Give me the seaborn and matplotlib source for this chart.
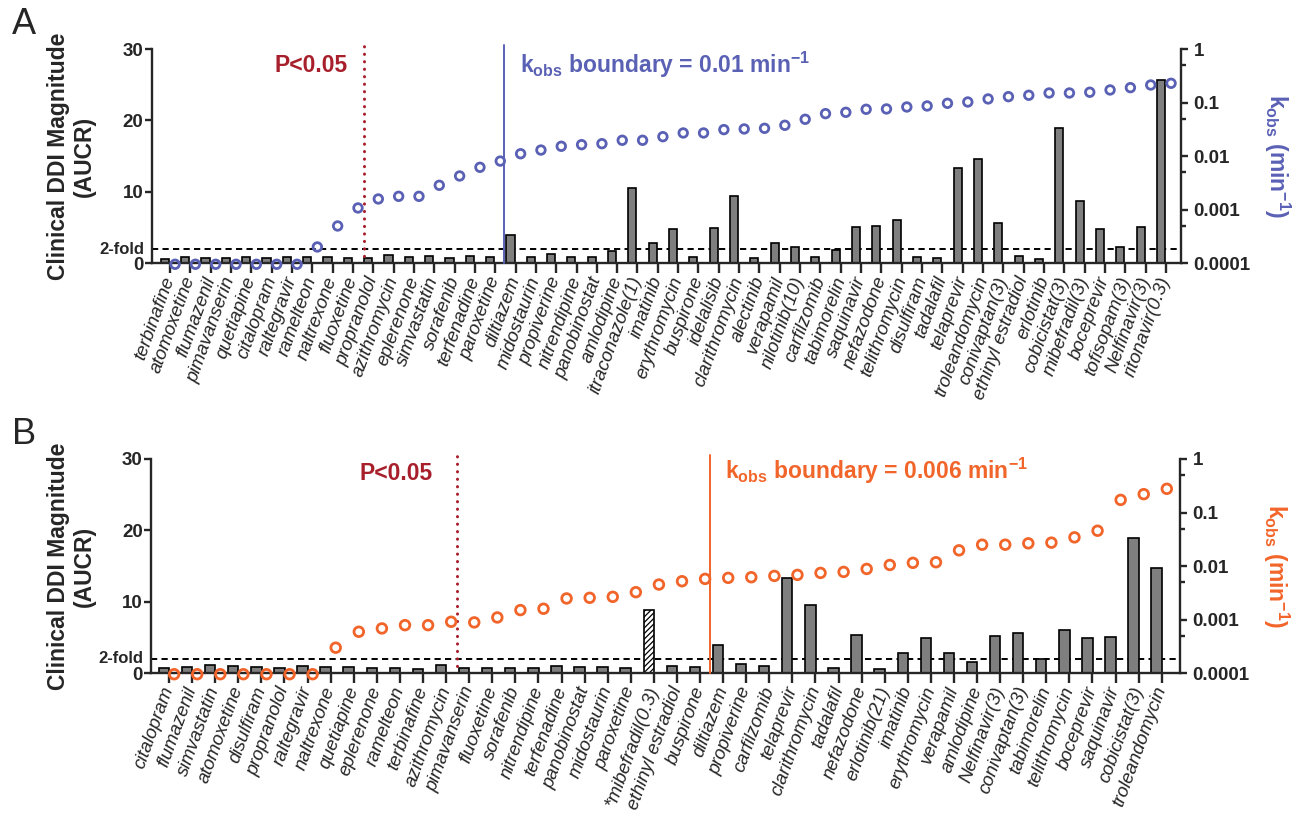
import numpy as np
import pandas as pd
import matplotlib
matplotlib.use("Agg")
import matplotlib.pyplot as plt
from matplotlib.ticker import FixedLocator, FixedFormatter
import seaborn as sns

# ---------------- data ----------------
names_a = ["terbinafine", "atomoxetine", "flumazenil", "pimavanserin", "quetiapine",
           "citalopram", "raltegravir", "ramelteon", "naltrexone", "fluoxetine",
           "propranolol", "azithromycin", "eplerenone", "simvastatin", "sorafenib",
           "terfenadine", "paroxetine", "diltiazem", "midostaurin", "propiverine",
           "nitrendipine", "panobinostat", "amlodipine", "itraconazole(1)", "imatinib",
           "erythromycin", "buspirone", "idelalisib", "clarithromycin", "alectinib",
           "verapamil", "nilotinib(10)", "carfilzomib", "tabimorelin", "saquinavir",
           "nefazodone", "telithromycin", "disulfiram", "tadalafil", "telaprevir",
           "troleandomycin", "conivaptan(3)", "ethinyl estradiol", "erlotinib", "cobicistat(3)",
           "mibefradil(3)", "boceprevir", "tofisopam(3)", "Nelfinavir(3)", "ritonavir(0.3)"]
aucr_a = [0.65, 0.93, 0.8, 0.7, 0.88, 0.8, 0.93, 0.84, 0.84, 0.74,
          0.8, 1.1, 0.84, 1.07, 0.74, 1.0, 0.84, 3.95, 0.88, 1.3,
          0.84, 0.93, 1.67, 10.56, 2.8, 4.84, 0.93, 4.98, 9.4, 0.7,
          2.8, 2.28, 0.93, 1.86, 5.02, 5.26, 6.05, 0.88, 0.8, 13.3,
          14.6, 5.63, 1.07, 0.56, 18.9, 8.7, 4.84, 2.23, 5.07, 25.7]
kobs_a = [0.000096, 0.000096, 0.000096, 0.000096, 0.000096, 0.000096, 0.000096,
          0.000202, 0.000498, 0.00108, 0.00159, 0.00178, 0.00178, 0.00286, 0.00427,
          0.0062, 0.0081, 0.0111, 0.0130, 0.0153, 0.0164, 0.0171, 0.0198, 0.0198,
          0.0231, 0.0271, 0.0271, 0.0313, 0.0322, 0.0331, 0.0377, 0.0488, 0.0622,
          0.0659, 0.0750, 0.0761, 0.0828, 0.0865, 0.097, 0.1026, 0.117, 0.129,
          0.137, 0.151, 0.151, 0.156, 0.172, 0.190, 0.213, 0.229]

names_b = ["citalopram", "flumazenil", "simvastatin", "atomoxetine", "disulfiram",
           "propranolol", "raltegravir", "naltrexone", "quetiapine", "eplerenone",
           "ramelteon", "terbinafine", "azithromycin", "pimavanserin", "fluoxetine",
           "sorafenib", "nitrendipine", "terfenadine", "panobinostat", "midostaurin",
           "paroxetine", "*mibefradil(0.3)", "ethinyl estradiol", "buspirone", "diltiazem",
           "propiverine", "carfilzomib", "telaprevir", "clarithromycin", "tadalafil",
           "nefazodone", "erlotinib(21)", "imatinib", "erythromycin", "verapamil",
           "amlodipine", "Nelfinavir(3)", "conivaptan(3)", "tabimorelin", "telithromycin",
           "boceprevir", "saquinavir", "cobicistat(3)", "troleandomycin"]
aucr_b = [0.79, 0.84, 1.1, 0.98, 0.84, 0.79, 0.98, 0.84, 0.84, 0.74,
          0.74, 0.65, 1.1, 0.74, 0.7, 0.7, 0.74, 1.02, 0.88, 0.84,
          0.79, 8.8, 1.07, 0.93, 3.95, 1.35, 1.02, 13.35, 9.49, 0.79,
          5.3, 0.56, 2.79, 4.88, 2.79, 1.63, 5.16, 5.63, 1.95, 6.09,
          4.93, 5.07, 18.98, 14.7]
kobs_b = [0.000096, 0.000096, 0.000096, 0.000096, 0.000096, 0.000096, 0.000096,
          0.0003, 0.000595, 0.000687, 0.00079, 0.00079, 0.000914, 0.00089, 0.0011,
          0.00151, 0.0016, 0.00249, 0.00256, 0.00267, 0.00326, 0.00453, 0.00522,
          0.00577, 0.00603, 0.0062, 0.00656, 0.00685, 0.00746, 0.00779, 0.00885,
          0.0105, 0.0115, 0.0118, 0.0197, 0.0251, 0.0251, 0.0266, 0.0274, 0.0344,
          0.0457, 0.172, 0.220, 0.277]
hatched_b = "*mibefradil(0.3)"

# thresholds (category-position units)
p_line_a, k_line_a = 9.55, 16.45
p_line_b, k_line_b = 12.48, 23.42

k_ticks = [0.0001, 0.001, 0.01, 0.1, 1]
k_tick_labels = ["0.0001", "0.001", "0.01", "0.1", "1"]
k_minor = [0.0005, 0.005, 0.05, 0.5]
y_ticks = [0, 10, 20, 30]

BAR = "#7f7f7f"
RED = "#a81f2c"
BLUE = "#5a61b5"
ORANGE = "#f2652a"

# ---------------- style ----------------
sns.set_style("ticks")
plt.rcParams["font.family"] = ["Liberation Sans", "DejaVu Sans"]
plt.rcParams["axes.linewidth"] = 1.7
plt.rcParams["hatch.linewidth"] = 0.9

fig = plt.figure(figsize=(12.92, 8.14), dpi=100)
axA = fig.add_axes([0.1174, 0.6765, 0.7967, 0.2633])
axB = fig.add_axes([0.1169, 0.1729, 0.7964, 0.2633])


def panel(ax, names, aucr, kobs, kcolor, xlim, bar_w, off, p_line, k_line,
          p_txt, k_txt, k_label, circ_s, hatched=None):
    n = len(names)
    df = pd.DataFrame({"name": names, "aucr": aucr, "kobs": kobs})
    df["pos"] = np.arange(n)
    df["bx"] = df["pos"] - off
    df["cx"] = df["pos"] + off

    ax.axhline(2, color="black", lw=1.4, ls=(0, (3.2, 2.2)), zorder=1)
    sns.barplot(data=df, x="bx", y="aucr", native_scale=True, width=bar_w,
                color=BAR, saturation=1, edgecolor="black", linewidth=1.2,
                errorbar=None, ax=ax, zorder=2)
    if hatched is not None:
        i = names.index(hatched)
        bars = [p for p in ax.patches]
        bars[i].set_facecolor("white")
        bars[i].set_hatch("//////")
        bars[i].set_edgecolor("black")

    ax.set_xlim(*xlim)
    ax.set_ylim(0, 30)
    ax.set_yticks(y_ticks)
    ax.set_yticklabels([str(v) for v in y_ticks], fontsize=13.5, fontweight="bold")
    ax.set_xticks(df["pos"])
    ax.set_xticklabels(names, rotation=70, ha="right", va="center",
                       rotation_mode="anchor", fontsize=13.5, fontstyle="italic")
    ax.tick_params(axis="x", length=7, width=1.7, pad=3)
    ax.tick_params(axis="y", length=5, width=1.7, pad=1)
    ax.set_xlabel("")
    ax.set_ylabel("Clinical DDI Magnitude\n(AUCR)", fontsize=16.5, fontweight="bold",
                  linespacing=1.15)
    ax.yaxis.set_label_coords(-0.054, 0.5)
    for s in ["top", "right"]:
        ax.spines[s].set_visible(False)

    # threshold lines
    ax.plot([p_line, p_line], [1, 30.6], color=RED, lw=2.2, ls=(0, (0.05, 2.4)),
            dash_capstyle="round", clip_on=False, zorder=3)
    ax.plot([k_line, k_line], [0, 30.5], color=kcolor, lw=1.4, clip_on=False, zorder=3)
    ax.text(p_txt[0], p_txt[1], "P<0.05", color=RED, fontsize=16.5, fontweight="bold",
            ha="right", va="center")
    ax.text(k_txt[0], k_txt[1],
            r"$\mathregular{k_{obs}}$ boundary = " + k_label + r" min$^{\mathregular{-1}}$",
            color=kcolor, fontsize=16.5, fontweight="bold", ha="left", va="center")
    ax.text(-0.007, 2, "2-fold", transform=ax.get_yaxis_transform(), ha="right",
            va="center", fontsize=12, fontweight="bold")

    ax2 = ax.twinx()
    sns.scatterplot(data=df, x="cx", y="kobs", ax=ax2, color=kcolor, facecolor="none",
                    edgecolor=kcolor, linewidth=2.0, s=circ_s, marker="o",
                    clip_on=False, zorder=5, legend=False)
    ax2.set_yscale("log")
    ax2.set_ylim(1e-4, 1)
    ax2.set_xlim(*xlim)
    ax2.yaxis.set_major_locator(FixedLocator(k_ticks))
    ax2.yaxis.set_major_formatter(FixedFormatter(k_tick_labels))
    ax2.yaxis.set_minor_locator(FixedLocator(k_minor))
    ax2.yaxis.set_minor_formatter(FixedFormatter([""] * len(k_minor)))
    ax2.tick_params(axis="y", which="major", length=5, width=1.7, pad=4, labelsize=13.5)
    ax2.tick_params(axis="y", which="minor", length=3.5, width=1.7)
    for lab in ax2.get_yticklabels():
        lab.set_fontweight("bold")
    ax2.set_ylabel("")
    ax2.set_xlabel("")
    for s in ["top", "left", "bottom"]:
        ax2.spines[s].set_visible(False)
    ax2.text(1.0935, 0.5, r"$\mathregular{k_{obs}}$ (min$^{\mathregular{-1}}$)",
             transform=ax2.transAxes, rotation=270, ha="center", va="center",
             color=kcolor, fontsize=16.5, fontweight="bold")
    return ax2


panel(axA, names_a, aucr_a, kobs_a, BLUE, (-0.9, 49.74), 0.40, 0.25,
      p_line_a, k_line_a, (8.76, 27.7), (17.2, 27.8), "0.01", 38)
panel(axB, names_b, aucr_b, kobs_b, ORANGE, (-0.78, 43.79), 0.45, 0.22,
      p_line_b, k_line_b, (11.43, 27.9), (24.1, 28.3), "0.006", 48, hatched=hatched_b)

fig.text(12 / 1292, 1 - 7 / 814, "A", fontsize=26, ha="left", va="top")
fig.text(12 / 1292, 1 - 417 / 814, "B", fontsize=26, ha="left", va="top")

fig.savefig("out.png", dpi=100)
